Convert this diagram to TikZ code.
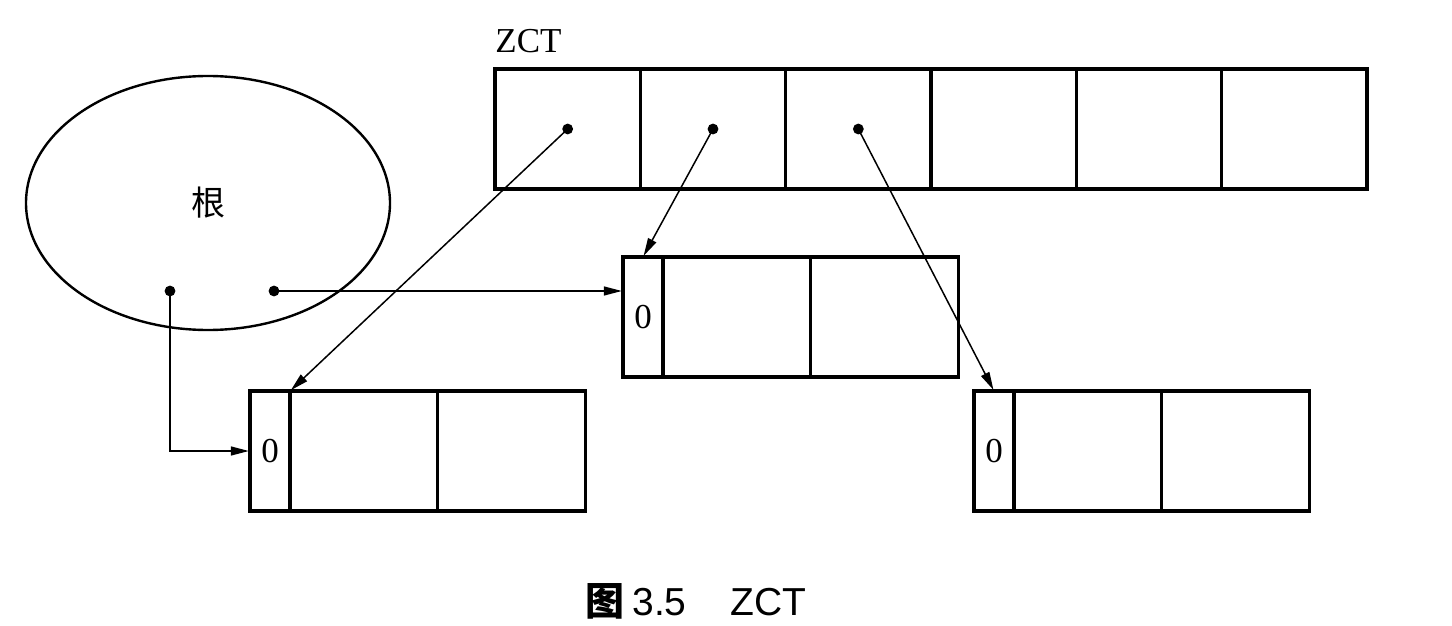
\documentclass[tikz,border=0pt]{standalone}
\usepackage{fontspec}
\setmainfont{Liberation Serif}
\setsansfont{Liberation Sans}
\newfontfamily\cjk{Noto Sans CJK SC}
\usetikzlibrary{arrows.meta,positioning,shapes.geometric}

\begin{document}
\begin{tikzpicture}[
  x=0.5pt,y=-0.5pt,
  node distance=0pt,
  cell/.style={rectangle,draw,line width=1.6pt,outer sep=0pt,inner sep=0pt,
               minimum width=72.67pt,minimum height=60pt},
  tag/.style={cell,minimum width=20pt,font=\fontsize{17.5}{20}\selectfont},
  wide/.style={cell,minimum width=73.8pt},
  ptr/.style={-{Triangle[length=9pt,width=4.5pt]},line width=0.75pt,shorten >=0.6pt},
  dot/.style={circle,fill,inner sep=0pt,minimum size=5.4pt}
]
\useasboundingbox (0,0) rectangle (1452,626);
% the ZCT table
\node[cell,anchor=north west] (zct1) at (495,69) {};
\foreach \i [count=\j] in {2,...,6}
  \node[cell,right=of zct\j] (zct\i) {};
\node[anchor=base west,inner sep=0pt,font=\fontsize{17.5}{20}\selectfont]
  (zctlabel) at ([yshift=8pt]zct1.north west) {ZCT};
% root set
\node[ellipse,draw,line width=1.2pt,inner sep=0pt,minimum width=182pt,minimum height=127pt,
      font=\cjk\fontsize{17}{20}\selectfont] (root) at (208,203) {根};
\coordinate (rootL) at ([shift={(-38,88)}]root.center);
\coordinate (rootR) at ([shift={(66,88)}]root.center);
% objects
\node[tag,anchor=north west] (mid0) at (623,257) {0};
\node[wide,right=of mid0] (mid1) {};
\node[wide,right=of mid1] (mid2) {};
\node[tag,anchor=north west] (lb0) at (250,391) {0};
\node[wide,right=of lb0] (lb1) {};
\node[wide,right=of lb1] (lb2) {};
\node[tag,anchor=north west] (rb0) at (974,391) {0};
\node[wide,right=of rb0] (rb1) {};
\node[wide,right=of rb1] (rb2) {};
% pointers
\foreach \p in {zct1,zct2,zct3,rootL,rootR}
  \node[dot] at (\p) {};
\draw[ptr] (zct1.center) -- (lb0.north east);
\draw[ptr] (zct2.center) -- (mid0.north);
\draw[ptr] (zct3.center) -- (rb0.north);
\draw[ptr] (rootR) -- (rootR -| mid0.west);
\draw[ptr] (rootL) |- (lb0.west);
% caption
\node[anchor=base west,inner sep=0pt,font=\sffamily\fontsize{19.5}{22}\selectfont]
  (caption) at (585,615) {{\cjk\bfseries 图}\hspace{4pt}3.5\hspace{22pt}ZCT};
\end{tikzpicture}
\end{document}
